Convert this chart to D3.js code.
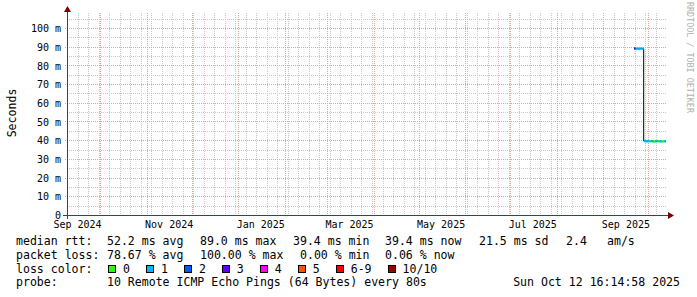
<!DOCTYPE html>
<html>
<head>
<meta charset="utf-8">
<script src="https://cdn.jsdelivr.net/npm/d3@7"></script>
<style>
body { margin: 0; background: #fff; }
svg { display: block; }
text { font-family: "DejaVu Sans Mono", monospace; fill: #000; }
</style>
</head>
<body>
<svg id="chart" width="697" height="297"></svg>
<script>
// graph window (last 400 days)
var startTime = "2024-09-09T00:00:00Z";
var endTime = "2025-10-12T16:14:58Z";

// median rtt steps: start time, median (ms), lost pings out of 10
var sampleTimes = [
    "2025-09-21T10:00:00Z", "2025-09-22T12:00:00Z", "2025-09-23T12:00:00Z",
    "2025-09-24T12:00:00Z", "2025-09-25T12:00:00Z", "2025-09-26T12:00:00Z",
    "2025-09-27T20:00:00Z", "2025-09-28T12:00:00Z", "2025-09-29T12:00:00Z",
    "2025-09-30T12:00:00Z", "2025-10-01T12:00:00Z", "2025-10-02T12:00:00Z",
    "2025-10-03T12:00:00Z", "2025-10-04T12:00:00Z", "2025-10-05T12:00:00Z",
    "2025-10-06T12:00:00Z", "2025-10-07T12:00:00Z", "2025-10-08T12:00:00Z",
    "2025-10-09T12:00:00Z", "2025-10-10T12:00:00Z", "2025-10-11T12:00:00Z"
];
var medianMs = [
    89.0, 88.9, 89.0, 88.8, 89.0, 88.9,
    39.6, 39.5, 39.4, 39.5, 39.4, 39.5,
    39.4, 39.3, 39.4, 39.5, 39.4, 39.4,
    39.3, 39.4, 39.4
];
var lossCount = [
    3, 1, 1, 1, 1, 1,
    1, 1, 1, 1, 0, 1,
    1, 0, 1, 1, 0, 1,
    0, 0, 1
];

var yMax = 108;
var yLabelValues = [0, 10, 20, 30, 40, 50, 60, 70, 80, 90, 100];
var xLabelMonths = ["2024-09", "2024-11", "2025-01", "2025-03", "2025-05", "2025-07", "2025-09"];

var lossLabels = ["0", "1", "2", "3", "4", "5", "6-9", "10/10"];
var lossColors = ["#26ff00", "#00b8ff", "#0059ff", "#5e00ff", "#ff00ff", "#ff5500", "#ff0000", "#a00000"];

var rttLegend = ["median rtt:", "52.2 ms avg", "89.0 ms max", "39.4 ms min", "39.4 ms now", "21.5 ms sd", "2.4", "am/s"];
var lossLegend = ["packet loss:", "78.67 % avg", "100.00 % max", "0.00 % min", "0.06 % now"];
var probeLegend = ["probe:", "10 Remote ICMP Echo Pings (64 Bytes) every 80s", "Sun Oct 12 16:14:58 2025"];

var plotL = 67, plotR = 666, plotT = 13, plotB = 215;
var charW = 6.95;

var svg = d3.select("#chart");
svg.append("rect").attr("width", 697).attr("height", 297).attr("fill", "#fff");

var x = d3.scaleUtc().domain([new Date(startTime), new Date(endTime)]).range([plotL, plotR]);
var y = d3.scaleLinear().domain([0, yMax]).range([plotB, plotT]);

function px(v) { return Math.round(v) + 0.5; }

var grid = svg.append("g").attr("shape-rendering", "crispEdges");

// minor grid: every 5 ms and every week
var minorY = d3.range(5, yMax, 5).filter(v => v % 10 !== 0);
var minorX = d3.utcMonday.range(x.domain()[0], x.domain()[1]);
var majorY = yLabelValues.filter(v => v > 0);
var majorX = d3.utcMonth.range(x.domain()[0], x.domain()[1]);

grid.selectAll(".minor-y").data(minorY).enter().append("line")
    .attr("x1", plotL).attr("x2", plotR)
    .attr("y1", d => px(y(d))).attr("y2", d => px(y(d)))
    .attr("stroke", "#c8c8c8").attr("stroke-dasharray", "1,1");

grid.selectAll(".minor-x").data(minorX).enter().append("line")
    .attr("x1", d => px(x(d))).attr("x2", d => px(x(d)))
    .attr("y1", plotT).attr("y2", plotB)
    .attr("stroke", "#c8c8c8").attr("stroke-dasharray", "1,1");

grid.selectAll(".major-y").data(majorY).enter().append("line")
    .attr("x1", plotL - 2).attr("x2", plotR)
    .attr("y1", d => px(y(d))).attr("y2", d => px(y(d)))
    .attr("stroke", "#eca0a0").attr("stroke-dasharray", "1,1");

grid.selectAll(".major-x").data(majorX).enter().append("line")
    .attr("x1", d => px(x(d))).attr("x2", d => px(x(d)))
    .attr("y1", plotT).attr("y2", plotB + 2)
    .attr("stroke", "#eca0a0").attr("stroke-dasharray", "1,1");

// y labels
svg.selectAll(".ylab").data(yLabelValues).enter().append("text")
    .attr("x", 61).attr("y", d => y(d) + 4.2)
    .attr("text-anchor", "end").style("font-size", "10px")
    .text(d => d === 0 ? "0" : d + " m");

// x labels centred in the month
svg.selectAll(".xlab").data(xLabelMonths).enter().append("text")
    .attr("x", d => x(d3.utcDay.offset(new Date(d + "-01T00:00:00Z"), 15)))
    .attr("y", 227.8)
    .attr("text-anchor", "middle").style("font-size", "10px")
    .text(d => d3.utcFormat("%b %Y")(new Date(d + "-01T00:00:00Z")));

// data
var samples = sampleTimes.map((t, i) => ({
    t0: new Date(t),
    t1: i + 1 < sampleTimes.length ? new Date(sampleTimes[i + 1]) : new Date(endTime),
    v: medianMs[i],
    loss: lossCount[i]
}));

function lossIndex(n) { return n <= 5 ? n : (n < 10 ? 6 : 7); }

var stepLine = d3.line().curve(d3.curveStepAfter).x(d => x(d[0])).y(d => y(d[1]));
var stepPts = samples.map(d => [d.t0, d.v]).concat([[new Date(endTime), medianMs[medianMs.length - 1]]]);
svg.append("path").attr("d", stepLine(stepPts))
    .attr("fill", "none").attr("stroke", "#000").attr("stroke-width", 1);

svg.selectAll(".seg").data(samples).enter().append("line")
    .attr("x1", d => x(d.t0)).attr("x2", d => x(d.t1))
    .attr("y1", d => y(d.v)).attr("y2", d => y(d.v))
    .attr("stroke", d => lossColors[lossIndex(d.loss)])
    .attr("stroke-width", 2.5);

// axes
var axisCol = "#2c4d43";
svg.append("line").attr("x1", plotL - 4).attr("x2", plotR + 2)
    .attr("y1", plotB + 0.5).attr("y2", plotB + 0.5)
    .attr("stroke", axisCol).attr("shape-rendering", "crispEdges");
svg.append("line").attr("x1", plotL + 0.5).attr("x2", plotL + 0.5)
    .attr("y1", plotB + 4).attr("y2", plotT - 1)
    .attr("stroke", axisCol).attr("shape-rendering", "crispEdges");
svg.append("path")
    .attr("d", `M${plotR + 2},${plotB - 3} L${plotR + 8},${plotB + 0.5} L${plotR + 2},${plotB + 4} Z`)
    .attr("fill", "#7f0000");
svg.append("path")
    .attr("d", `M${plotL - 3},${plotT - 1} L${plotL + 0.5},${plotT - 7} L${plotL + 4},${plotT - 1} Z`)
    .attr("fill", "#7f0000");

// titles
svg.append("text")
    .attr("transform", "translate(15.5,113) rotate(-90)")
    .attr("text-anchor", "middle").style("font-size", "11.55px")
    .text("Seconds");
svg.append("text")
    .attr("transform", "translate(687,2) rotate(90)")
    .style("font-size", "8.4px").style("fill", "#b0b0b0")
    .text("RRDTOOL / TOBI OETIKER");

// legend
var legend = svg.append("g").style("font-size", "11.55px");
var rttX = [16, 107, 200, 293, 385, 479, 566, 607];
rttLegend.forEach((s, i) => legend.append("text").attr("x", rttX[i]).attr("y", 245.3).text(s));
var lossX = [16, 107, 200, 300, 385];
lossLegend.forEach((s, i) => legend.append("text").attr("x", lossX[i]).attr("y", 258.9).text(s));

legend.append("text").attr("x", 16).attr("y", 272.5).text("loss color:");
var bx = 108;
lossLabels.forEach((s, i) => {
    legend.append("rect").attr("x", bx + 0.5).attr("y", 265.5).attr("width", 7).attr("height", 7)
        .attr("fill", lossColors[i]).attr("stroke", "#000").attr("shape-rendering", "crispEdges");
    legend.append("text").attr("x", bx + 15).attr("y", 272.5).text(s);
    bx = bx + 15 + s.length * charW + 16;
});

legend.append("text").attr("x", 16).attr("y", 286.2).text(probeLegend[0]);
legend.append("text").attr("x", 107).attr("y", 286.2).text(probeLegend[1]);
legend.append("text").attr("x", 680).attr("y", 286.2).attr("text-anchor", "end").text(probeLegend[2]);
</script>
</body>
</html>
